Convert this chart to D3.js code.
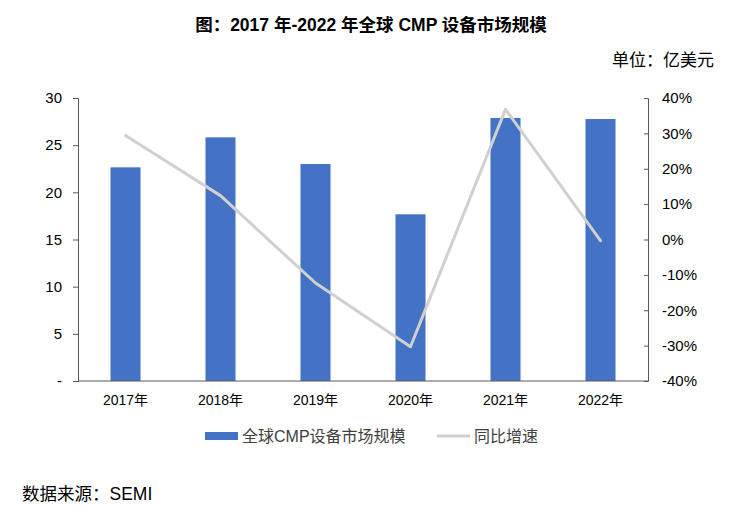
<!DOCTYPE html>
<html><head><meta charset="utf-8">
<script src="https://cdn.jsdelivr.net/npm/d3@7"></script>
<style>body{margin:0;background:#fff}svg{display:block}</style>
</head><body><svg id="c" width="731" height="509"></svg>
<script>
const categories = ["2017年","2018年","2019年","2020年","2021年","2022年"];
const marketSize = [22.65, 25.83, 23.0, 17.67, 27.88, 27.77];
const growth = [0.294, 0.124, -0.123, -0.303, 0.368, -0.003];
const leftTicks = [0,5,10,15,20,25,30];
const rightTicks = [-0.4,-0.3,-0.2,-0.1,0,0.1,0.2,0.3,0.4];

const svg = d3.select("#c");
const m = {l:78, r:648, t:98, b:381};
const x = d3.scaleBand().domain(categories).range([m.l, m.r]).paddingInner(0.684).paddingOuter(0.342);
const yL = d3.scaleLinear().domain([0,30]).range([m.b, m.t]);
const yR = d3.scaleLinear().domain([-0.4,0.4]).range([m.b, m.t]);
const font = "Arial, 'Liberation Sans', 'Noto Sans CJK SC', sans-serif";
const cjk = "'Noto Sans CJK SC', sans-serif";
const axisColor = "#595959";

svg.append("text").attr("x", 371).attr("y", 31).attr("text-anchor","middle")
  .attr("font-family", font).attr("font-weight","bold").attr("font-size",17.5).attr("fill","#000")
  .text("图：2017 年-2022 年全球 CMP 设备市场规模");
svg.append("text").attr("x", 714).attr("y", 66).attr("text-anchor","end")
  .attr("font-family", cjk).attr("font-size",17).attr("fill","#000").text("单位：亿美元");

// bars
svg.append("g").selectAll("rect").data(marketSize).join("rect")
  .attr("x",(d,i)=>x(categories[i])).attr("width",x.bandwidth())
  .attr("y",d=>yL(d)).attr("height",d=>yL(0)-yL(d)).attr("fill","#4472c4");

// left axis
const gL = svg.append("g").attr("transform",`translate(${m.l},0)`)
  .call(d3.axisLeft(yL).tickValues(leftTicks).tickSize(5).tickPadding(11).tickFormat(d=>d===0?"-":d));
// right axis (ticks point inward)
const gR = svg.append("g").attr("transform",`translate(${m.r},0)`)
  .call(d3.axisRight(yR).tickValues(rightTicks).tickSize(-4).tickPadding(14).tickFormat(d=>Math.round(d*100)+"%"));
[gL,gR].forEach(g=>{
  g.select(".domain").attr("stroke",axisColor);
  g.selectAll(".tick line").attr("stroke",axisColor);
  g.selectAll(".tick text").attr("font-family",font).attr("font-size",15).attr("fill","#000");
});
// x axis
const gX = svg.append("g").attr("transform",`translate(0,${m.b})`)
  .call(d3.axisBottom(x).tickSize(0).tickPadding(14));
gX.select(".domain").attr("stroke",axisColor).attr("d",`M${m.l},0H${m.r}`);
gX.selectAll(".tick text").attr("font-family",font).attr("font-size",14).attr("fill","#000");

// line
const line = d3.line().x((d,i)=>x(categories[i])+x.bandwidth()/2).y(d=>yR(d));
svg.append("path").datum(growth).attr("d",line).attr("fill","none")
  .attr("stroke","#d0d0d0").attr("stroke-width",3).attr("stroke-linejoin","round").attr("stroke-linecap","round");

// legend
const lg = svg.append("g");
lg.append("rect").attr("x",205).attr("y",432).attr("width",33).attr("height",8).attr("fill","#4472c4");
lg.append("text").attr("x",242).attr("y",442).attr("font-family",font).attr("font-size",16).attr("fill","#404040").text("全球CMP设备市场规模");
lg.append("line").attr("x1",437).attr("x2",470).attr("y1",436).attr("y2",436).attr("stroke","#d0d0d0").attr("stroke-width",3);
lg.append("text").attr("x",474).attr("y",442).attr("font-family",font).attr("font-size",16).attr("fill","#404040").text("同比增速");

svg.append("text").attr("x",22).attr("y",500).attr("font-family",font).attr("font-size",17.5).attr("fill","#000").text("数据来源：SEMI");
</script></body></html>
